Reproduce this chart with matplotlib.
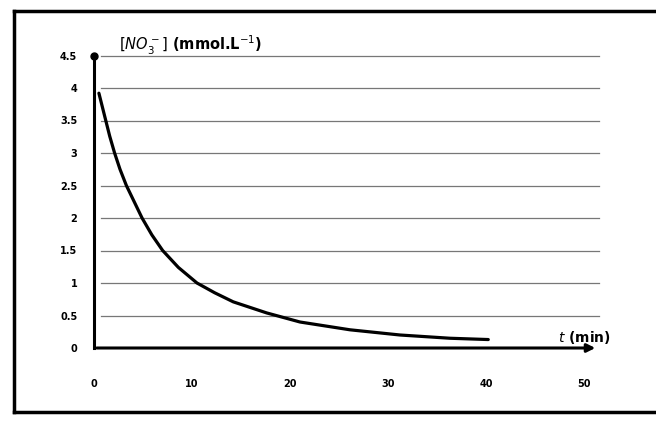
import matplotlib.pyplot as plt
from matplotlib.lines import Line2D

# valeurs
t = [0.5, 1.2, 1.6, 2.1, 2.65, 3.3, 4.9, 5.9, 7.0, 8.6, 10.5, 12.3, 14.2, 17.6, 21,
     26.1, 31.2, 36.3, 40.2]
no3 = [3.92, 3.5, 3.26, 3.0, 2.75, 2.5, 2.0, 1.74, 1.5, 1.24, 1.0, 0.85, 0.71, 0.54, 0.40,
       0.28, 0.2, 0.15, 0.13]

yticks = [0, 0.5, 1, 1.5, 2, 2.5, 3, 3.5, 4, 4.5]
ytick_labels = ['0', '0.5', '1', '1.5', '2', '2.5', '3', '3.5', '4', '4.5']
xticks = [0, 10, 20, 30, 40, 50]
xtick_labels = ['0', '10', '20', '30', '40', '50']

W, H = 656, 421
fig = plt.figure(figsize=(W / 100, H / 100), dpi=100)

# cadre du scan (gauche, haut, bas)
for xs, ys in [([14, 14], [11, 412]), ([14, 656], [11, 11]), ([14, 656], [412, 412])]:
    fig.add_artist(Line2D([x / W for x in xs], [1 - y / H for y in ys],
                          color='black', lw=2.5, transform=fig.transFigure))

ax = fig.add_axes([94 / W, 73 / H, 510 / W, 299 / H])
ax.set_xlim(0, 52)
ax.set_ylim(0, 4.6)

# lignes horizontales
for y in yticks[1:]:
    ax.plot([0.7, 51.5], [y, y], color='#777777', lw=0.9)

ax.plot(t, no3, color='black', lw=2.3, solid_joinstyle='round', solid_capstyle='round')

# axes
for s in ['top', 'right', 'left', 'bottom']:
    ax.spines[s].set_visible(False)
ax.plot([0, 0], [0, 4.5], color='black', lw=2.2, clip_on=False)
ax.plot([0], [4.5], 'o', color='black', ms=5, clip_on=False)
ax.annotate('', xy=(51.4, 0), xytext=(0, 0),
            arrowprops=dict(arrowstyle='-|>', color='black', lw=2.2, mutation_scale=12),
            annotation_clip=False)

ax.set_yticks(yticks)
ax.set_yticklabels(ytick_labels, fontsize=7, fontweight='bold')
ax.set_xticks(xticks)
ax.set_xticklabels(xtick_labels, fontsize=7, fontweight='bold')
ax.tick_params(length=0)
ax.tick_params(axis='x', pad=22)
ax.tick_params(axis='y', pad=12)

ax.text(2.5, 4.66, r'$[NO_3^-]$ (mmol.L$^{-1}$)', fontsize=10.5, fontweight='bold',
        va='center', ha='left', clip_on=False)
ax.text(47.3, 0.16, r'$t$ (min)', fontsize=10, fontweight='bold', va='center', ha='left')

plt.savefig('out.png', dpi=100)
